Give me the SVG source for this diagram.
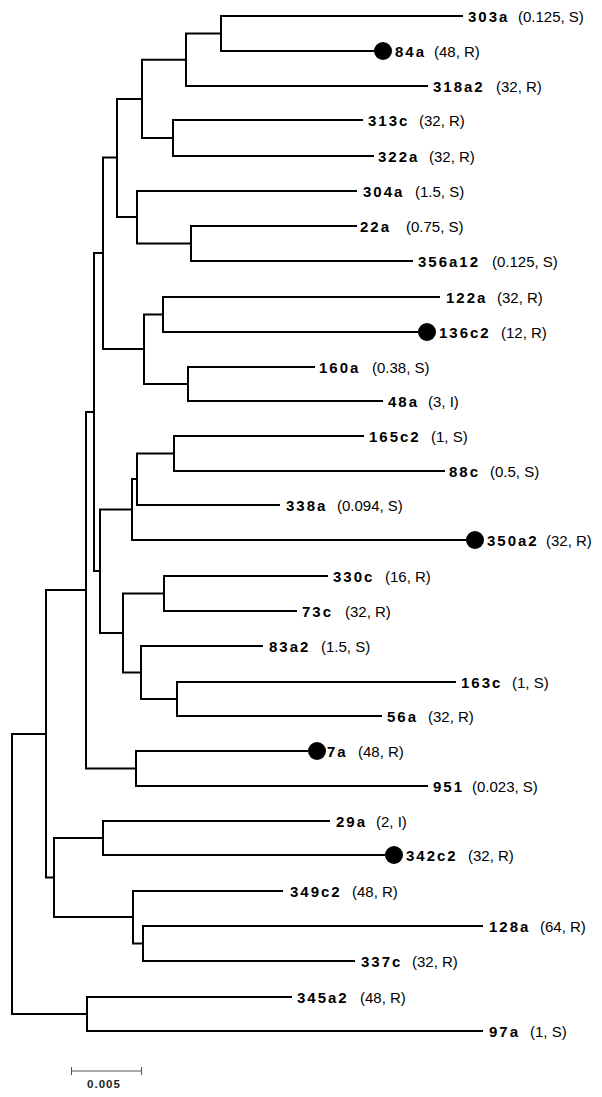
<svg xmlns="http://www.w3.org/2000/svg" width="602" height="1097" viewBox="0 0 602 1097">
<style>
.br{fill:none;stroke:#000;stroke-width:2;stroke-linejoin:miter;stroke-linecap:butt}
.lb{font-family:"Liberation Sans",Arial,sans-serif;font-weight:bold;font-size:15px;letter-spacing:2px;fill:#000}
.vl{font-family:"Liberation Sans",Arial,sans-serif;font-size:15px;fill:#000}
.dot{fill:#000}
.sc{fill:none;stroke:#555;stroke-width:1}
.st{font-family:"Liberation Sans",Arial,sans-serif;font-weight:bold;font-size:11.5px;letter-spacing:1px;fill:#222;text-anchor:middle}
</style>
<rect width="602" height="1097" fill="#fff"/>
<g id="connectors">
<path class="br" d="M463,16 H221 V51 H374"/>
<path class="br" d="M221,33.5 H186 V86 H428"/>
<path class="br" d="M363,120 H173 V156 H374"/>
<path class="br" d="M186,59.75 H142 V138 H173"/>
<path class="br" d="M357,226 H191 V261 H413"/>
<path class="br" d="M357,191 H137 V243.5 H191"/>
<path class="br" d="M142,99 H117 V217 H137"/>
<path class="br" d="M440,297 H163 V332 H418"/>
<path class="br" d="M315,367 H188 V401 H383"/>
<path class="br" d="M163,314.5 H144 V384 H188"/>
<path class="br" d="M117,157.5 H103 V349 H144"/>
<path class="br" d="M364,436 H174 V471 H445"/>
<path class="br" d="M174,453.5 H137 V505 H280"/>
<path class="br" d="M137,479 H132 V540 H466"/>
<path class="br" d="M328,576 H164 V611 H297"/>
<path class="br" d="M456,682 H177 V716 H382"/>
<path class="br" d="M263,646 H141 V699 H177"/>
<path class="br" d="M164,593.5 H123 V672.5 H141"/>
<path class="br" d="M132,509.5 H100 V633 H123"/>
<path class="br" d="M103,253 H94 V571 H100"/>
<path class="br" d="M308,751 H136 V786 H428"/>
<path class="br" d="M94,412 H86 V768.5 H136"/>
<path class="br" d="M330,821 H103 V855 H385"/>
<path class="br" d="M483,926 H143 V961 H355"/>
<path class="br" d="M283,891 H133 V943.5 H143"/>
<path class="br" d="M103,838 H54 V917 H133"/>
<path class="br" d="M86,590 H46 V877.5 H54"/>
<path class="br" d="M292,997 H87 V1031 H483"/>
<path class="br" d="M46,734 H12 V1014 H87"/>
</g>
<g id="n303a"><text class="lb" x="468" y="22">303a</text><text class="vl" x="518" y="22">(0.125, S)</text></g>
<g id="n84a"><circle class="dot" cx="383" cy="51" r="9"/><text class="lb" x="395" y="57">84a</text><text class="vl" x="434" y="57">(48, R)</text></g>
<g id="n318a2"><text class="lb" x="433" y="92">318a2</text><text class="vl" x="496" y="92">(32, R)</text></g>
<g id="n313c"><text class="lb" x="368" y="126">313c</text><text class="vl" x="419" y="126">(32, R)</text></g>
<g id="n322a"><text class="lb" x="378" y="162">322a</text><text class="vl" x="429" y="162">(32, R)</text></g>
<g id="n304a"><text class="lb" x="363" y="197">304a</text><text class="vl" x="415" y="197">(1.5, S)</text></g>
<g id="n22a"><text class="lb" x="360" y="232">22a</text><text class="vl" x="406" y="232">(0.75, S)</text></g>
<g id="n356a12"><text class="lb" x="418" y="267">356a12</text><text class="vl" x="492" y="267">(0.125, S)</text></g>
<g id="n122a"><text class="lb" x="446" y="303">122a</text><text class="vl" x="497" y="303">(32, R)</text></g>
<g id="n136c2"><circle class="dot" cx="427" cy="332" r="9"/><text class="lb" x="439" y="338">136c2</text><text class="vl" x="501" y="338">(12, R)</text></g>
<g id="n160a"><text class="lb" x="319" y="373">160a</text><text class="vl" x="372" y="373">(0.38, S)</text></g>
<g id="n48a"><text class="lb" x="388" y="407">48a</text><text class="vl" x="428" y="407">(3, I)</text></g>
<g id="n165c2"><text class="lb" x="369" y="442">165c2</text><text class="vl" x="431" y="442">(1, S)</text></g>
<g id="n88c"><text class="lb" x="449" y="477">88c</text><text class="vl" x="490" y="477">(0.5, S)</text></g>
<g id="n338a"><text class="lb" x="286" y="511">338a</text><text class="vl" x="337" y="511">(0.094, S)</text></g>
<g id="n350a2"><circle class="dot" cx="475" cy="540" r="9"/><text class="lb" x="487" y="546">350a2</text><text class="vl" x="546" y="546">(32, R)</text></g>
<g id="n330c"><text class="lb" x="333" y="582">330c</text><text class="vl" x="385" y="582">(16, R)</text></g>
<g id="n73c"><text class="lb" x="302" y="617">73c</text><text class="vl" x="345" y="617">(32, R)</text></g>
<g id="n83a2"><text class="lb" x="269" y="652">83a2</text><text class="vl" x="321" y="652">(1.5, S)</text></g>
<g id="n163c"><text class="lb" x="461" y="688">163c</text><text class="vl" x="512" y="688">(1, S)</text></g>
<g id="n56a"><text class="lb" x="387" y="722">56a</text><text class="vl" x="428" y="722">(32, R)</text></g>
<g id="n7a"><circle class="dot" cx="317" cy="751" r="9"/><text class="lb" x="327" y="757">7a</text><text class="vl" x="358" y="757">(48, R)</text></g>
<g id="n951"><text class="lb" x="433" y="792">951</text><text class="vl" x="472" y="792">(0.023, S)</text></g>
<g id="n29a"><text class="lb" x="336" y="827">29a</text><text class="vl" x="376" y="827">(2, I)</text></g>
<g id="n342c2"><circle class="dot" cx="394" cy="855" r="9"/><text class="lb" x="406" y="861">342c2</text><text class="vl" x="468" y="861">(32, R)</text></g>
<g id="n349c2"><text class="lb" x="290" y="897">349c2</text><text class="vl" x="352" y="897">(48, R)</text></g>
<g id="n128a"><text class="lb" x="489" y="932">128a</text><text class="vl" x="540" y="932">(64, R)</text></g>
<g id="n337c"><text class="lb" x="361" y="967">337c</text><text class="vl" x="412" y="967">(32, R)</text></g>
<g id="n345a2"><text class="lb" x="297" y="1003">345a2</text><text class="vl" x="360" y="1003">(48, R)</text></g>
<g id="n97a"><text class="lb" x="489" y="1037">97a</text><text class="vl" x="530" y="1037">(1, S)</text></g>
<g id="scale">
<path class="sc" d="M71,1071 H142 M71.5,1067 V1075 M141.5,1067 V1075"/>
<text class="st" x="104" y="1088">0.005</text>
</g>
</svg>
